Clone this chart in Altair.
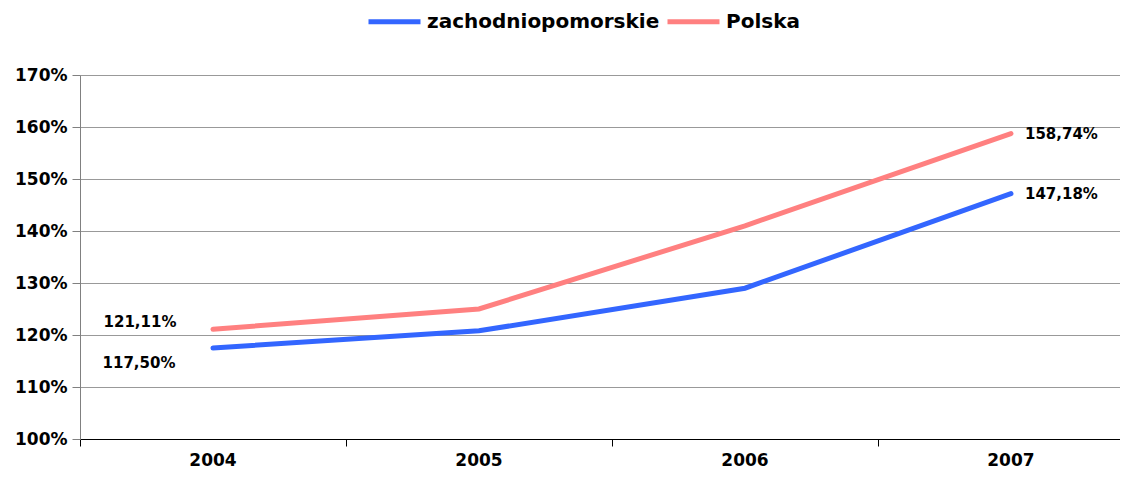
import altair as alt
import pandas as pd

years = ["2004", "2005", "2006", "2007"]
series_names = ["zachodniopomorskie", "Polska"]
zach = [117.50, 120.8, 129.0, 147.18]
polska = [121.11, 125.0, 141.0, 158.74]
colors = ["#3366FF", "#FF8080"]
y_ticks = [100, 110, 120, 130, 140, 150, 160, 170]

rows = []
for name, vals in zip(series_names, [zach, polska]):
    for i, (yr, v) in enumerate(zip(years, vals)):
        rows.append({"idx": i, "year": yr, "series": name, "value": v,
                     "label": f"{v:.2f}%".replace(".", ",")})
df = pd.DataFrame(rows)
years_df = pd.DataFrame({"idx": list(range(len(years))), "year": years})

FONT = "DejaVu Sans"
W, H = 1040, 364

x_scale = alt.Scale(domain=[-0.5, 3.41], nice=False, zero=False)
y_scale = alt.Scale(domain=[100, 170], nice=False, zero=False)

base = alt.Chart(df)

lines = base.mark_line(strokeWidth=5, strokeCap="round", clip=False).encode(
    x=alt.X("idx:Q", scale=x_scale,
            axis=alt.Axis(values=[-0.5, 0.5, 1.5, 2.5], labels=False, grid=False,
                          title=None, tickSize=7, tickColor="#000000",
                          domainColor="#000000", tickWidth=1)),
    y=alt.Y("value:Q", scale=y_scale,
            axis=alt.Axis(values=y_ticks, labelExpr="datum.value + '%'", title=None,
                          grid=True, gridColor="#999999", tickSize=8,
                          tickColor="#808080", domainColor="#808080",
                          labelFont=FONT, labelFontSize=17, labelFontWeight="bold",
                          labelColor="#000000", labelPadding=5)),
    color=alt.Color("series:N",
                    scale=alt.Scale(domain=series_names, range=colors),
                    legend=alt.Legend(title=None, orient="none", direction="horizontal",
                                      legendX=286, legendY=-82, symbolType="stroke",
                                      symbolSize=2704, symbolStrokeWidth=5,
                                      labelFont=FONT, labelFontSize=20,
                                      labelFontWeight="bold", labelColor="#000000",
                                      labelOffset=4, columnPadding=-3, labelLimit=0)),
    detail="series:N",
)

lbl_left_pink = base.transform_filter(
    (alt.datum.idx == 0) & (alt.datum.series == "Polska")
).mark_text(font=FONT, fontSize=15, fontWeight="bold", align="center",
            baseline="middle", dx=-73, dy=-7, color="#000000").encode(
    x=alt.X("idx:Q", scale=x_scale), y=alt.Y("value:Q", scale=y_scale), text="label:N")

lbl_left_blue = base.transform_filter(
    (alt.datum.idx == 0) & (alt.datum.series == "zachodniopomorskie")
).mark_text(font=FONT, fontSize=15, fontWeight="bold", align="center",
            baseline="middle", dx=-74, dy=15, color="#000000").encode(
    x=alt.X("idx:Q", scale=x_scale), y=alt.Y("value:Q", scale=y_scale), text="label:N")

lbl_right = base.transform_filter(alt.datum.idx == 3).mark_text(
    font=FONT, fontSize=15, fontWeight="bold", align="left",
    baseline="middle", dx=14, dy=0, color="#000000").encode(
    x=alt.X("idx:Q", scale=x_scale), y=alt.Y("value:Q", scale=y_scale), text="label:N")

year_labels = alt.Chart(years_df).mark_text(
    font=FONT, fontSize=17, fontWeight="bold", baseline="middle", align="center",
    color="#000000").encode(
    x=alt.X("idx:Q", scale=x_scale), y=alt.value(386), text="year:N")

chart = alt.layer(lines, lbl_left_pink, lbl_left_blue, lbl_right, year_labels).properties(
    width=W, height=H,
    autosize=alt.AutoSizeParams(type="none"),
    padding={"left": 72, "top": 67, "right": 0, "bottom": 36},
).configure_view(stroke=None).configure(background="#ffffff")

chart.save("out.html", embed_options={"renderer": "svg", "actions": False})
